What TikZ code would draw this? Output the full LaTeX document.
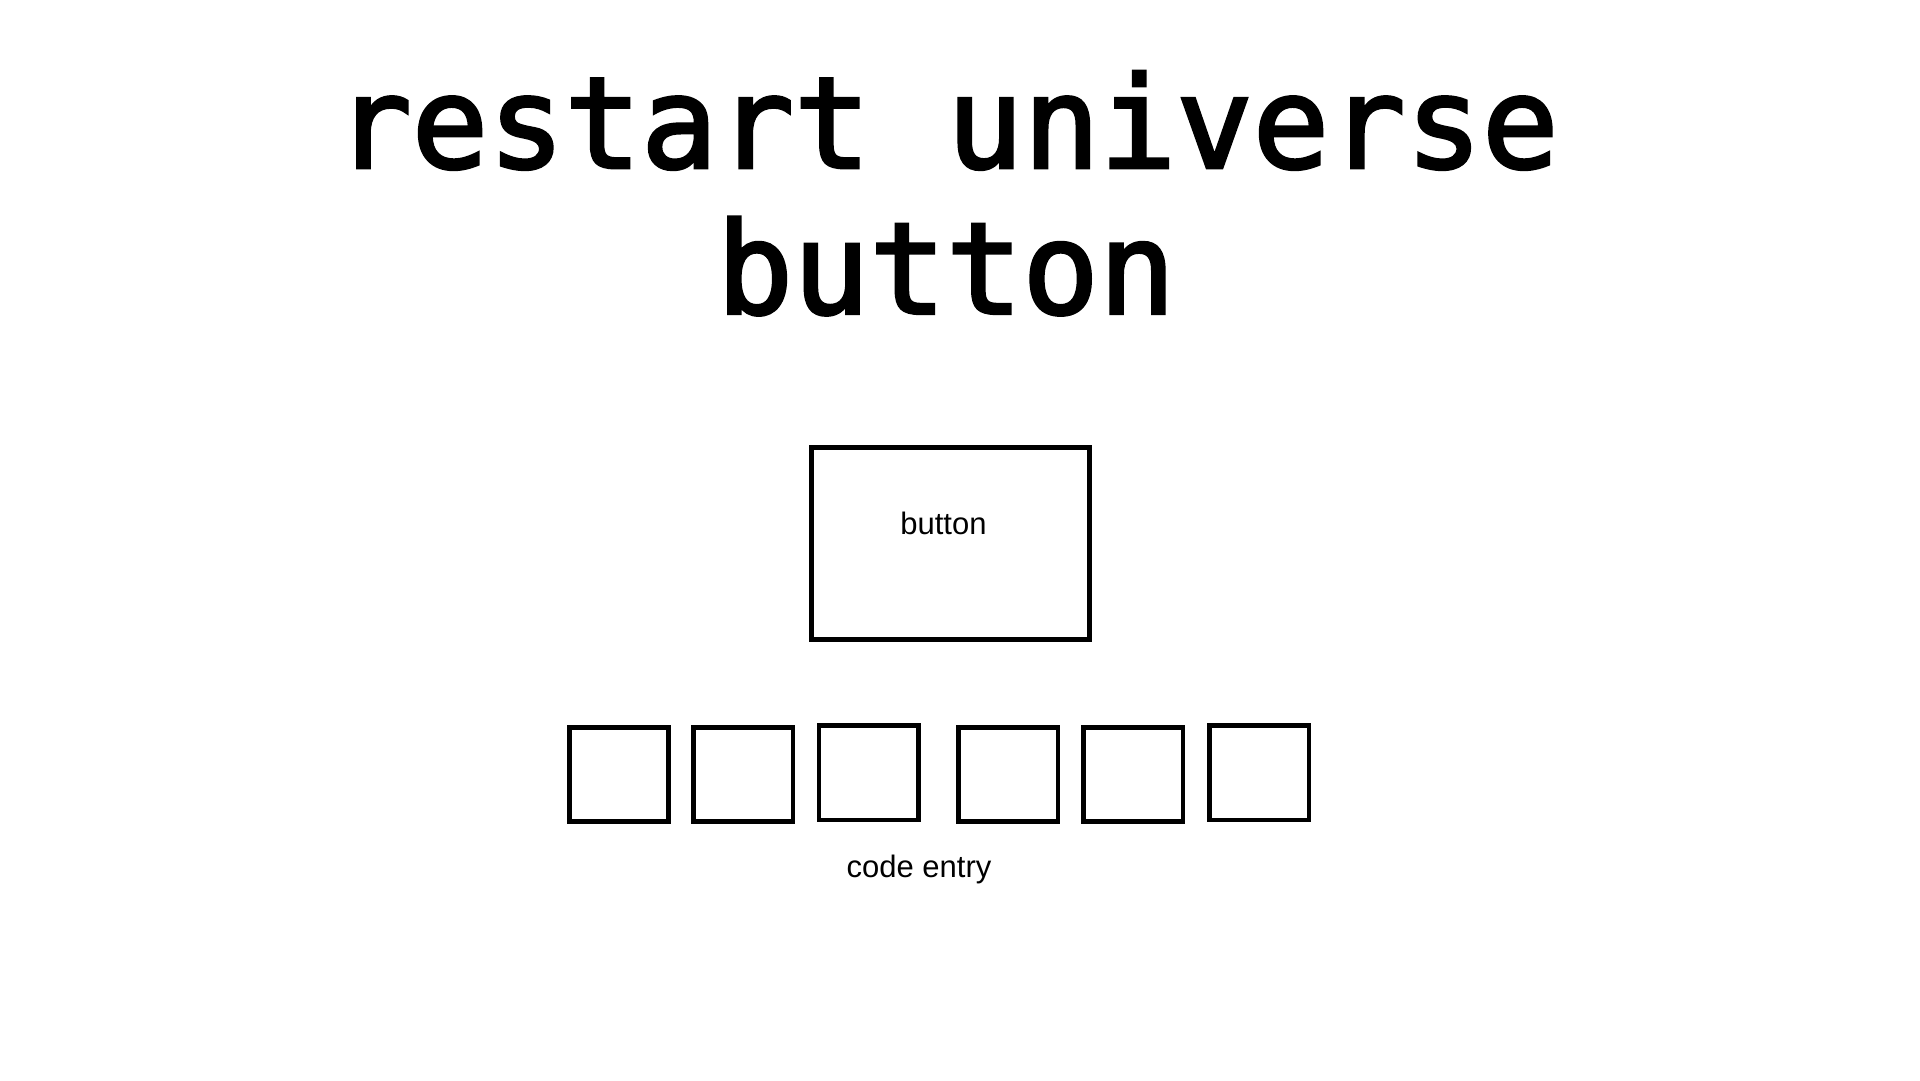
\documentclass[tikz,border=0pt]{standalone}
\usepackage{fontspec}
\setmainfont{Liberation Sans}
\newfontfamily\titlefont[FakeBold=2.5]{DejaVu Sans Mono}
\begin{document}
\begin{tikzpicture}[x=1pt,y=-1pt,
  frame/.style={draw=black,line width=4.6pt,inner sep=0pt,outer sep=0pt},
  codebox/.style={frame,minimum width=99.5pt,minimum height=94.5pt},
  titletxt/.style={inner sep=0pt,anchor=base,font=\titlefont\fontsize{127}{140}\selectfont},
  labeltxt/.style={inner sep=0pt,anchor=base,font=\fontsize{31}{36}\selectfont}]
\useasboundingbox[fill=white] (0,0) rectangle (1920,1080);
\node[titletxt] (t1) at (947,167.8) {restart universe};
\node[titletxt] (t2) at (946,313.5) {button};
\node[frame,minimum width=278pt,minimum height=192pt] (btn) at (950.5,543.5) {};
\node[labeltxt] (btnlabel) at (943.4,534.5) {button};
\node[codebox] (c1) at (619,774.5) {};
\node[codebox] (c2) at (743.3,774.5) {};
\node[codebox] (c3) at (868.8,772.6) {};
\node[codebox] (c4) at (1008.4,774.5) {};
\node[codebox] (c5) at (1133.3,774.5) {};
\node[codebox] (c6) at (1259.4,772.6) {};
\node[labeltxt] (codelabel) at (919,877) {code entry};
\end{tikzpicture}
\end{document}
